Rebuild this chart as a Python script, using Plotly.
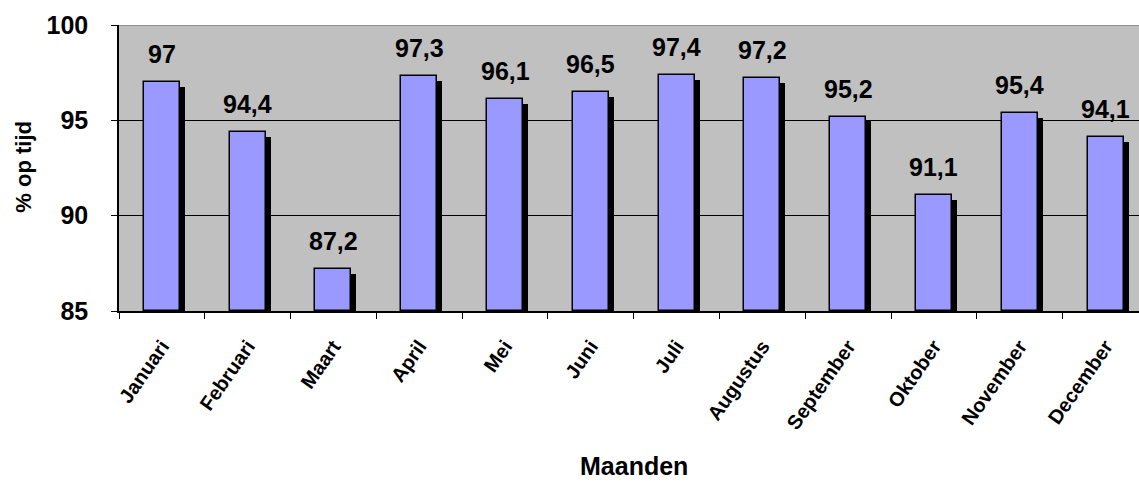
import plotly.graph_objects as go

months = ["Januari", "Februari", "Maart", "April", "Mei", "Juni", "Juli",
          "Augustus", "September", "Oktober", "November", "December"]
values = [97, 94.4, 87.2, 97.3, 96.1, 96.5, 97.4, 97.2, 95.2, 91.1, 95.4, 94.1]
y_ticks = [85, 90, 95, 100]

FONT = "Liberation Sans, Arial, sans-serif"
BAR_W = 0.42
SH_DX = 0.058   # shadow horizontal offset (category units)
SH_DY = 0.26    # shadow vertical offset (value units)
BASE = 85

fig = go.Figure()
# shadow
fig.add_trace(go.Bar(
    x=months, y=[v - SH_DY - BASE for v in values], base=BASE,
    width=BAR_W, offset=-BAR_W / 2 + SH_DX,
    marker=dict(color="black", line=dict(width=0)),
    hoverinfo="skip", showlegend=False,
))
# main bars
fig.add_trace(go.Bar(
    x=months, y=[v - BASE for v in values], base=BASE,
    width=BAR_W, offset=-BAR_W / 2,
    marker=dict(color="#9999FF", line=dict(color="black", width=1.5)),
    showlegend=False,
))

for m, v in zip(months, values):
    fig.add_annotation(
        x=m, y=v, xref="x", yref="y", text=f"{v:g}".replace(".", ","),
        showarrow=False, yanchor="bottom", yshift=12,
        font=dict(family=FONT, size=25, color="black", weight="bold"),
    )

# axis titles
fig.add_annotation(x=0.505, y=-0.595, xref="paper", yref="paper",
                   text="Maanden", showarrow=False, yanchor="bottom",
                   borderpad=0,
                   font=dict(family=FONT, size=25, color="black", weight="bold"))
fig.add_annotation(x=-0.094, y=0.505, xref="paper", yref="paper",
                   text="% op tijd", showarrow=False, textangle=-90,
                   xanchor="center", yanchor="middle",
                   font=dict(family=FONT, size=22, color="black", weight="bold"))

# top border of the plot area
fig.add_shape(type="line", xref="paper", yref="y", x0=0, x1=1, y0=100, y1=100,
              line=dict(color="#808080", width=1.5))

fig.update_layout(
    width=1139, height=482,
    margin=dict(l=119, r=0, t=25, b=171, autoexpand=False),
    paper_bgcolor="white", plot_bgcolor="#C0C0C0",
    barmode="overlay", bargap=0,
    font=dict(family=FONT, color="black"),
)
fig.update_xaxes(
    type="category", range=[-0.5, 11.39], automargin=False,
    tickson="boundaries", ticks="outside", ticklen=6, tickcolor="black",
    ticklabelstandoff=14,
    tickangle=-55, showline=True, linecolor="black", linewidth=1.5,
    showgrid=False,
    tickfont=dict(family=FONT, size=20, color="black", weight="bold"),
)
fig.update_yaxes(
    range=[85, 100], tickvals=y_ticks, ticktext=[str(t) for t in y_ticks],
    automargin=False,
    ticks="outside", ticklen=6, tickcolor="black", ticklabelstandoff=18,
    showline=True, linecolor="black", linewidth=1.5,
    showgrid=True, gridcolor="black", gridwidth=1, zeroline=False,
    tickfont=dict(family=FONT, size=25, color="black", weight="bold"),
)

fig.write_html("out.html", config={"displayModeBar": False},
               post_script="document.body.style.margin='0';document.body.style.overflow='hidden';")
